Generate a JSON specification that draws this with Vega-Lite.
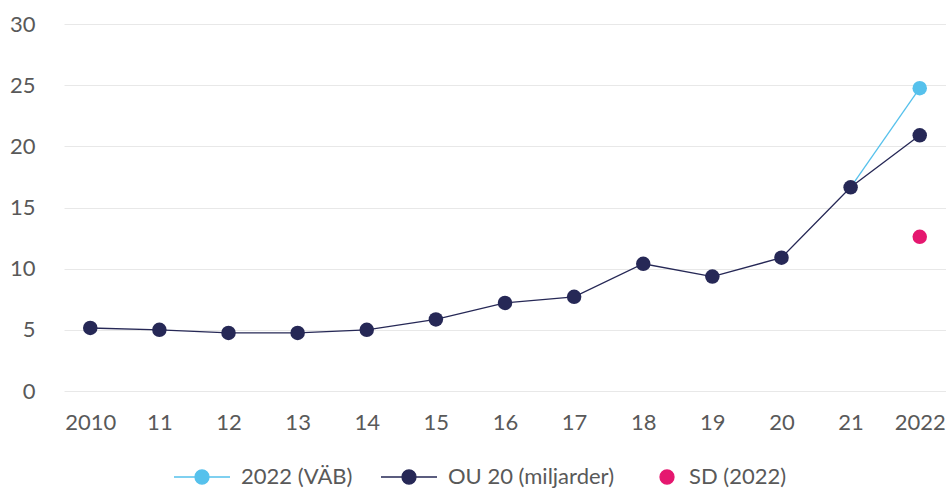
{
  "$schema": "https://vega.github.io/schema/vega-lite/v6.json",
  "width": 882,
  "height": 367,
  "autosize": "none",
  "padding": {"left": 64, "top": 24, "right": 0, "bottom": 97},
  "config": {"view": {"stroke": null}, "font": "Lato"},
  "data": {
    "values": [
      {"year": "2010", "series": "OU 20 (miljarder)", "value": 5.15},
      {"year": "11", "series": "OU 20 (miljarder)", "value": 5.0},
      {"year": "12", "series": "OU 20 (miljarder)", "value": 4.75},
      {"year": "13", "series": "OU 20 (miljarder)", "value": 4.75},
      {"year": "14", "series": "OU 20 (miljarder)", "value": 5.0},
      {"year": "15", "series": "OU 20 (miljarder)", "value": 5.85},
      {"year": "16", "series": "OU 20 (miljarder)", "value": 7.2},
      {"year": "17", "series": "OU 20 (miljarder)", "value": 7.7},
      {"year": "18", "series": "OU 20 (miljarder)", "value": 10.4},
      {"year": "19", "series": "OU 20 (miljarder)", "value": 9.35},
      {"year": "20", "series": "OU 20 (miljarder)", "value": 10.9},
      {"year": "21", "series": "OU 20 (miljarder)", "value": 16.65},
      {"year": "2022", "series": "OU 20 (miljarder)", "value": 20.9},
      {"year": "21", "series": "2022 (VÄB)", "value": 16.65},
      {"year": "2022", "series": "2022 (VÄB)", "value": 24.75},
      {"year": "2022", "series": "SD (2022)", "value": 12.6}
    ]
  },
  "encoding": {
    "x": {
      "field": "year", "type": "ordinal", "sort": null,
      "scale": {"type": "point", "padding": 0.38},
      "axis": {"title": null, "labelAngle": 0, "domain": false, "ticks": false, "grid": false,
        "labelFontSize": 22, "labelColor": "#595959", "labelPadding": 21}
    },
    "y": {
      "field": "value", "type": "quantitative",
      "scale": {"domain": [0, 30]},
      "axis": {"title": null, "values": [0, 5, 10, 15, 20, 25, 30], "domain": false, "ticks": false,
        "labelFontSize": 22, "labelColor": "#595959", "labelPadding": 29, "gridColor": "#e8e8e8"}
    },
    "color": {
      "field": "series", "type": "nominal",
      "scale": {"domain": ["2022 (VÄB)", "OU 20 (miljarder)", "SD (2022)"], "range": ["#56c1ec", "#262856", "#e5176f"]},
      "legend": {
        "orient": "none", "legendX": 127, "legendY": 442,
        "direction": "horizontal", "title": null,
        "labelFontSize": 22, "labelColor": "#595959", "labelLimit": 400, "symbolSize": 196,
        "labelOffset": 28, "columnPadding": 25,
        "encode": {
          "symbols": {
            "update": {
              "shape": {"signal": "datum.value === 'SD (2022)' ? 'M3.43,0A1,1,0,1,1,1.43,0A1,1,0,1,1,3.43,0' : 'M-4,0H-1A1,1,0,1,1,1,0A1,1,0,1,1,-1,0M1,0H4'"},
              "fill": {"signal": "scale('color', datum.value)"},
              "stroke": {"signal": "scale('color', datum.value)"},
              "strokeWidth": {"value": 1.3},
              "opacity": {"value": 1}
            }
          }
        }
      }
    }
  },
  "layer": [
    {
      "transform": [{"filter": "datum.series !== 'SD (2022)'"}],
      "mark": {"type": "line", "strokeWidth": 1.3}
    },
    {
      "transform": [{"filter": "datum.series !== '2022 (VÄB)' || datum.year === '2022'"}],
      "mark": {"type": "point", "filled": true, "opacity": 1, "size": 210}
    }
  ]
}
